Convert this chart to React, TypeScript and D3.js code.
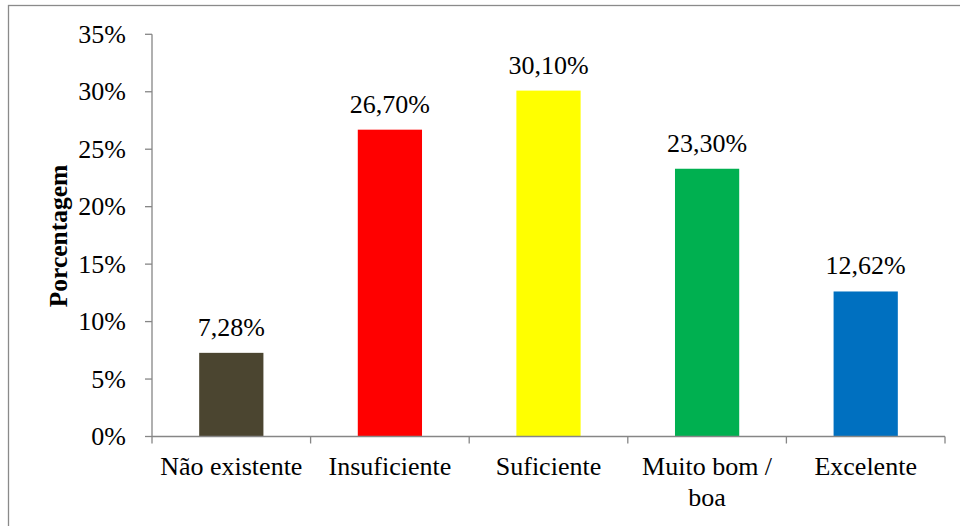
import React from "react";
import * as d3 from "d3";

const categories = ["Não existente", "Insuficiente", "Suficiente", "Muito bom / boa", "Excelente"];
const categoryLines = [["Não existente"], ["Insuficiente"], ["Suficiente"], ["Muito bom /", "boa"], ["Excelente"]];
const values = [7.28, 26.7, 30.1, 23.3, 12.62];
const valueLabels = ["7,28%", "26,70%", "30,10%", "23,30%", "12,62%"];
const colors = ["#4B4530", "#FF0000", "#FFFF00", "#00B050", "#0070C0"];
const yTicks = [0, 5, 10, 15, 20, 25, 30, 35];

const W = 960;
const H = 526;
const FONT = '"Liberation Serif", "Times New Roman", serif';
const AXIS = "#868686";
const txt: React.CSSProperties = { fontFamily: FONT, fontSize: "26px" };

export default function App() {
  const x = d3.scaleBand<string>().domain(categories).range([152, 945]).padding(0);
  const y = d3.scaleLinear().domain([0, 35]).range([436.5, 34.3]);
  const barW = x.bandwidth() * 0.405;

  return (
    <svg width={W} height={H} style={{ position: "absolute", left: 0, top: 0, display: "block", background: "#fff", fontFamily: FONT }}>
      <rect x={8.5} y={5.5} width={W + 10} height={H + 10} fill="none" stroke="#8a8a8a" strokeWidth={1.3} />
      {categories.map((c, i) => {
        const cx = (x(c) as number) + x.bandwidth() / 2;
        return (
          <g key={c}>
            <rect x={cx - barW / 2} y={y(values[i])} width={barW} height={y(0) - y(values[i])} fill={colors[i]} />
            <text x={cx} y={y(values[i]) - 17} textAnchor="middle" style={txt} fill="#000">
              {valueLabels[i]}
            </text>
          </g>
        );
      })}
      <line x1={152} x2={152} y1={y(35)} y2={y(0)} stroke={AXIS} strokeWidth={1.3} />
      {yTicks.map((t) => (
        <g key={t}>
          <line x1={145} x2={152} y1={y(t)} y2={y(t)} stroke={AXIS} strokeWidth={1.3} />
          <text x={126} y={y(t) + 8.5} textAnchor="end" style={txt} fill="#000">
            {t}%
          </text>
        </g>
      ))}
      <line x1={152} x2={945} y1={y(0)} y2={y(0)} stroke={AXIS} strokeWidth={1.3} />
      {categories.map((c) => (
        <line key={"t" + c} x1={x(c) as number} x2={x(c) as number} y1={y(0)} y2={y(0) + 7} stroke={AXIS} strokeWidth={1.3} />
      ))}
      <line x1={945} x2={945} y1={y(0)} y2={y(0) + 7} stroke={AXIS} strokeWidth={1.3} />
      {categories.map((c, i) => {
        const cx = (x(c) as number) + x.bandwidth() / 2;
        return (
          <text key={"l" + c} x={cx} y={475} textAnchor="middle" style={txt} fill="#000">
            {categoryLines[i].map((ln, j) => (
              <tspan key={j} x={cx} dy={j === 0 ? 0 : 31}>
                {ln}
              </tspan>
            ))}
          </text>
        );
      })}
      <text
        transform={`translate(67,236) rotate(-90)`}
        textAnchor="middle"
        style={{ fontFamily: FONT, fontSize: "25.5px", fontWeight: "bold" }}
        fill="#000"
      >
        Porcentagem
      </text>
    </svg>
  );
}
